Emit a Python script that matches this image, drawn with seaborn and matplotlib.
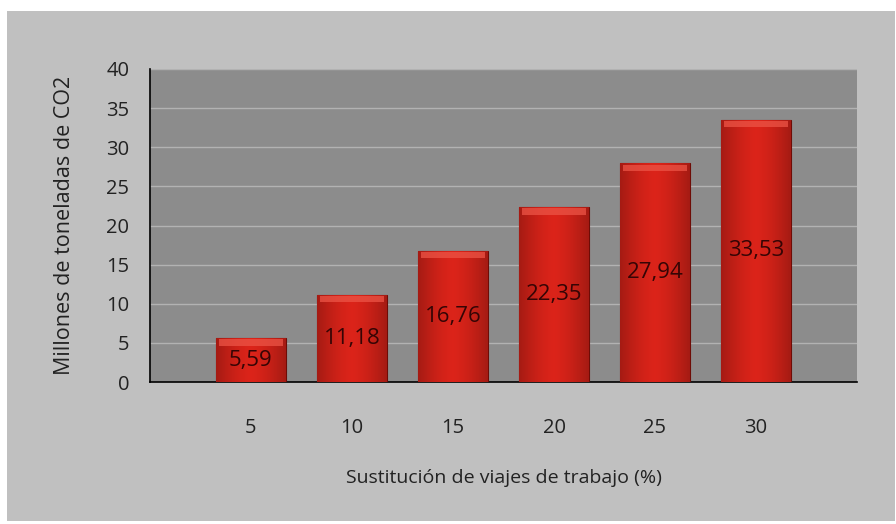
import numpy as np
import pandas as pd
import matplotlib
matplotlib.use("Agg")
import matplotlib.pyplot as plt
from matplotlib.patches import Rectangle
import seaborn as sns

# data
porcentajes = ["5", "10", "15", "20", "25", "30"]
toneladas = [5.59, 11.18, 16.76, 22.35, 27.94, 33.53]
etiquetas = ["5,59", "11,18", "16,76", "22,35", "27,94", "33,53"]
y_ticks = [0, 5, 10, 15, 20, 25, 30, 35, 40]

df = pd.DataFrame({"pct": porcentajes, "val": toneladas})

sns.set_theme(style="white")
plt.rcParams["font.family"] = ["Open Sans", "DejaVu Sans"]

fig = plt.figure(figsize=(8.96, 5.24), dpi=100)
fig.patch.set_facecolor("white")
# grey chart panel behind everything
fig.patches.append(Rectangle((7 / 896, 3 / 524), 888 / 896, 510 / 524,
                             transform=fig.transFigure, facecolor="#c0c0c0",
                             edgecolor="none", zorder=-10))

ax = fig.add_axes([150 / 896, 1 - 382 / 524, 707 / 896, 313 / 524])
ax.set_facecolor("#8c8c8c")

sns.barplot(data=df, x="pct", y="val", color="#d8231a", width=0.69,
            edgecolor="#6e0c06", linewidth=0.8, ax=ax, zorder=3)

# shading on the bars: darker sides, lighter top bevel
grad = np.linspace(0, 1, 100)
shade = 1 - 0.35 * np.abs(grad - 0.5) ** 1.5 * 2
for bar in ax.patches:
    x0, y0 = bar.get_x(), bar.get_y()
    w, h = bar.get_width(), bar.get_height()
    img = np.zeros((1, 100, 4))
    img[..., 0] = 0.86 * shade
    img[..., 1] = 0.14 * shade
    img[..., 2] = 0.10 * shade
    img[..., 3] = 1
    im = ax.imshow(img, extent=[x0, x0 + w, y0, y0 + h], aspect="auto",
                   zorder=3.5, interpolation="bilinear")
    im.set_clip_path(bar)
    ax.add_patch(Rectangle((x0 + w * 0.04, y0 + h - 0.95), w * 0.92, 0.8,
                           facecolor="#ec5446", edgecolor="none", zorder=3.6,
                           alpha=0.75))

for i, (v, lab) in enumerate(zip(toneladas, etiquetas)):
    ax.text(i, v / 2, lab, ha="center", va="center", fontsize=16,
            color="#350505", zorder=5)

ax.set_xlim(-1, 6)
ax.set_ylim(0, 40)
ax.set_yticks(y_ticks)
ax.set_xticks(range(-1, 7))
ax.set_xticklabels([""] + porcentajes + [""])
ax.yaxis.grid(True, color="#b2b2b2", linewidth=1.0, zorder=0)
ax.set_axisbelow(True)

for side in ["top", "right"]:
    ax.spines[side].set_visible(False)
for side in ["left", "bottom"]:
    ax.spines[side].set_color("black")
    ax.spines[side].set_linewidth(1.2)
ax.tick_params(axis="both", direction="out", length=5, width=1.2,
               color="black", labelsize=14.5, labelcolor="#222222")
ax.tick_params(axis="x", pad=21)
ax.tick_params(axis="y", pad=10)

ax.set_xlabel("Sustitución de viajes de trabajo (%)", fontsize=14,
              color="#222222", labelpad=22)
ax.set_ylabel("Millones de toneladas de CO2", fontsize=15.5,
              color="#222222", labelpad=22)

fig.savefig("out.png", dpi=100, facecolor=fig.get_facecolor())
